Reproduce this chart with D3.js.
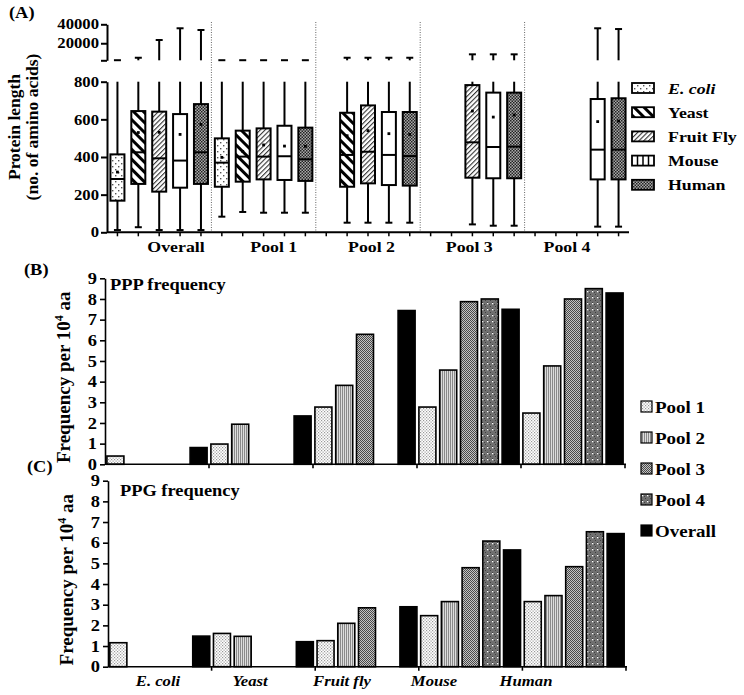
<!DOCTYPE html>
<html><head><meta charset="utf-8">
<script src="https://cdn.jsdelivr.net/npm/d3@7"></script>
<style>body{margin:0;background:#fff} svg{display:block}</style>
</head><body>
<svg id="chart" width="744" height="695"></svg>
<script>
// ---------------- DATA ----------------
// Panel A: protein length box plots, [min, q1, median, q3, max, mean]
const organismsA = ["E. coli", "Yeast", "Fruit Fly", "Mouse", "Human"];
const groupsA = ["Overall", "Pool 1", "Pool 2", "Pool 3", "Pool 4"];
const boxOverall = [[12,168,283,414,2100,320],[27,257,425,644,4700,530],[12,216,393,641,23400,531],[12,237,381,628,35800,520],[12,257,425,681,34000,573]];
const boxPool1 = [[83,242,370,499,2100,398],[108,269,402,540,2100,430],[104,281,402,552,2100,464],[104,278,404,566,2100,458],[104,273,388,556,2100,457]];
const boxPool2 = [null,[51,242,411,635,4700,513],[51,260,428,674,4700,540],[51,251,411,639,4700,524],[51,248,405,639,4700,520]];
const boxPool3 = [null,null,[42,290,478,782,8300,644],[35,287,453,742,8300,612],[35,287,455,742,8300,623]];
const boxPool4 = [null,null,null,[30,281,439,708,35800,588],[30,281,439,712,35000,591]];
const yTicksLowA = [0, 200, 400, 600, 800];
const yTicksUpA = [2000, 20000, 40000];

// Panels B & C: frequency per 10^4 aa
const organismsBC = ["E. coli", "Yeast", "Fruit fly", "Mouse", "Human"];
const seriesBC = ["Pool 1", "Pool 2", "Pool 3", "Pool 4", "Overall"];
const pppPool1 = [0.40, 0.98, 2.77, 2.77, 2.48];
const pppPool2 = [null, 1.94, 3.82, 4.56, 4.76];
const pppPool3 = [null, null, 6.29, 7.87, 8.00];
const pppPool4 = [null, null, null, 8.00, 8.50];
const pppOverall = [0.81, 2.34, 7.44, 7.50, 8.29];
const ppgPool1 = [1.16, 1.61, 1.26, 2.47, 3.15];
const ppgPool2 = [null, 1.47, 2.10, 3.15, 3.44];
const ppgPool3 = [null, null, 2.85, 4.79, 4.84];
const ppgPool4 = [null, null, null, 6.08, 6.53];
const ppgOverall = [1.48, 1.21, 2.90, 5.65, 6.44];
const yTicksBC = [0,1,2,3,4,5,6,7,8,9];

// ---------------- SETUP ----------------
const FONT = "'Liberation Serif','Times New Roman',serif";
const SX = 1.15;
const svg = d3.select("#chart");
const defs = svg.append("defs");

function pattern(id, w, h, build, transform) {
  const p = defs.append("pattern").attr("id", id)
    .attr("patternUnits", "userSpaceOnUse").attr("width", w).attr("height", h);
  if (transform) p.attr("patternTransform", transform);
  build(p);
}
function r(p, x, y, w, h, fill) {
  p.append("rect").attr("x", x).attr("y", y).attr("width", w).attr("height", h).attr("fill", fill);
}
// Panel A patterns
pattern("pEcoli", 6, 6, p => { r(p,0,0,6,6,"#fff"); r(p,1,1,1.4,1.4,"#555"); r(p,4,4,1.4,1.4,"#555"); });
pattern("pYeast", 7, 7, p => { r(p,0,0,7,7,"#fff"); r(p,0,0,3,7,"#000"); }, "rotate(-45)");
pattern("pFly", 3.4, 3.4, p => { r(p,0,0,3.4,3.4,"#fff"); r(p,0,0,1.1,3.4,"#333"); }, "rotate(45)");
pattern("pMouse", 4, 4, p => { r(p,0,0,4,4,"#fff"); });
pattern("pHuman", 3, 3, p => { r(p,0,0,3,3,"#aaa"); r(p,0,0,1.5,1.5,"#222"); r(p,1.5,1.5,1.5,1.5,"#222"); });
const fillA = ["url(#pEcoli)", "url(#pYeast)", "url(#pFly)", "url(#pMouse)", "url(#pHuman)"];
// Panel B/C patterns
pattern("pP1", 3, 3, p => { r(p,0,0,3,3,"#fff"); r(p,0,0,1.2,1.2,"#999"); r(p,1.5,1.5,1.2,1.2,"#999"); });
pattern("pP2", 2, 2, p => { r(p,0,0,2,2,"#ddd"); r(p,0,0,1,2,"#8a8a8a"); });
pattern("pP3", 2, 2, p => { r(p,0,0,2,2,"#c4c4c4"); r(p,0,0,1,1,"#4a4a4a"); r(p,1,1,1,1,"#4a4a4a"); });
pattern("pP4", 5, 6, p => { r(p,0,0,5,6,"#707070"); r(p,0,0,1,1,"#404040"); r(p,2,2,1,1,"#404040"); r(p,4,4,1,1,"#404040");
  r(p,2,3,1.3,1.3,"#fff"); });
const fillBC = ["url(#pP1)", "url(#pP2)", "url(#pP3)", "url(#pP4)", "#000"];

function label(parent, x, y, txt, size, opts = {}) {
  return parent.append("text")
    .attr("transform", `translate(${x},${y}) scale(${opts.sx ?? SX},1)`)
    .attr("font-family", FONT).attr("font-weight", "bold")
    .attr("font-size", size).attr("text-anchor", opts.anchor || "start")
    .attr("font-style", opts.italic ? "italic" : "normal")
    .attr("fill", "#000")
    .text(txt);
}
function vtitle(parent, x, y, txt, size) {
  return parent.append("text")
    .attr("transform", `translate(${x},${y}) rotate(-90)`)
    .attr("font-family", FONT).attr("font-weight", "bold")
    .attr("font-size", size).attr("text-anchor", "middle").text(txt);
}
function styleAxis(g, sw, size, pad) {
  g.select(".domain").attr("stroke", "#000").attr("stroke-width", sw);
  g.selectAll(".tick line").attr("stroke", "#000").attr("stroke-width", sw);
  g.selectAll(".tick text").attr("font-family", FONT).attr("font-weight", "bold")
    .attr("font-size", size).attr("fill", "#000")
    .attr("transform", `scale(${SX},1)`);
}

// ---------------- PANEL A ----------------
const gA = svg.append("g");
const xGroupA = d3.scaleBand().domain(groupsA).range([107, 629]);
const xOrgA = d3.scaleBand().domain(organismsA).range([0, xGroupA.bandwidth()]);
const yLowA = d3.scaleLinear().domain([0, 800]).range([232.3, 81.7]);
const yUpA = d3.scaleLinear().domain([2000, 40000]).range([60.3, 24.3]);
const boxesA = [boxOverall, boxPool1, boxPool2, boxPool3, boxPool4];

// dotted separators
groupsA.slice(1).forEach(g => {
  gA.append("line").attr("x1", xGroupA(g)).attr("x2", xGroupA(g))
    .attr("y1", 22).attr("y2", yLowA(0))
    .attr("stroke", "#666").attr("stroke-width", 1).attr("stroke-dasharray", "1,1.5");
});

const boxW = 14, capW = 7;
groupsA.forEach((grp, gi) => {
  organismsA.forEach((org, oi) => {
    const cx = xGroupA(grp) + xOrgA(org) + xOrgA.bandwidth() / 2;
    // x-axis slot tick
    gA.append("line").attr("x1", cx).attr("x2", cx).attr("y1", yLowA(0)).attr("y2", yLowA(0) + 4)
      .attr("stroke", "#000").attr("stroke-width", 1.5);
    const s = boxesA[gi][oi];
    if (!s) return;
    const [mn, q1, md, q3, mx, mean] = s;
    const ln = (x1, y1, x2, y2) => gA.append("line").attr("x1", x1).attr("y1", y1).attr("x2", x2).attr("y2", y2)
      .attr("stroke", "#000").attr("stroke-width", 2);
    ln(cx, yLowA(mn), cx, yLowA(q1));
    ln(cx - capW / 2, yLowA(mn), cx + capW / 2, yLowA(mn));
    ln(cx, yLowA(q3), cx, yLowA(Math.min(mx, 800)));
    if (mx > 800) {
      ln(cx, yUpA(2000), cx, yUpA(mx));
      ln(cx - capW / 2, yUpA(mx), cx + capW / 2, yUpA(mx));
    }
    gA.append("rect").attr("x", cx - boxW / 2).attr("y", yLowA(q3))
      .attr("width", boxW).attr("height", yLowA(q1) - yLowA(q3))
      .attr("fill", fillA[oi]).attr("stroke", "#000").attr("stroke-width", 2);
    ln(cx - boxW / 2, yLowA(md), cx + boxW / 2, yLowA(md));
    gA.append("rect").attr("x", cx - 1.4).attr("y", yLowA(mean) - 1.4).attr("width", 2.8).attr("height", 2.8).attr("fill", "#000");
  });
});
// x axis line
gA.append("line").attr("x1", 107).attr("x2", 629).attr("y1", yLowA(0)).attr("y2", yLowA(0))
  .attr("stroke", "#000").attr("stroke-width", 2);
// y axes
const axLowA = gA.append("g").attr("transform", "translate(107,0)")
  .call(d3.axisLeft(yLowA).tickValues(yTicksLowA).tickSize(6).tickSizeOuter(0).tickPadding(1));
styleAxis(axLowA, 2, 14.5);
const axUpA = gA.append("g").attr("transform", "translate(107,0)")
  .call(d3.axisLeft(yUpA).tickValues(yTicksUpA).tickSize(6).tickSizeOuter(0).tickPadding(1)
    .tickFormat(d => d === 2000 ? "" : d));
styleAxis(axUpA, 2, 14.5);

// group labels
const xLabA = d3.scalePoint().domain(groupsA).range([176, 567]);
groupsA.forEach(g => label(gA, xLabA(g), 252, g, 15.5, { anchor: "middle" }));
// y title
vtitle(gA, 20, 127, "Protein length", 17.5);
vtitle(gA, 38, 127, "(no. of amino acids)", 17.5);
label(gA, 9, 18, "(A)", 16);

// legend A
const legA = gA.append("g");
organismsA.forEach((o, i) => {
  const cy = 88 + i * 24.2;
  legA.append("rect").attr("x", 632).attr("y", cy - 5).attr("width", 22).attr("height", 10)
    .attr("fill", fillA[i]).attr("stroke", "#000").attr("stroke-width", 1.8);
  if (i === 3) {
    [637.5, 643, 648.5].forEach(x => legA.append("line").attr("x1", x).attr("x2", x)
      .attr("y1", cy - 5).attr("y2", cy + 5).attr("stroke", "#000").attr("stroke-width", 1.5));
  }
  label(legA, 668, cy + 5.5, o, 15.5, { italic: i === 0 });
});

// ---------------- PANELS B & C ----------------
function drawBars(cfg) {
  const g = svg.append("g");
  const xO = d3.scaleBand().domain(organismsBC).range([cfg.left, cfg.right]);
  const xS = d3.scaleBand().domain(seriesBC).range([0, xO.bandwidth()]);
  const y = d3.scaleLinear().domain([0, 9]).range([cfg.y0, cfg.y9]);
  const barW = 17;
  cfg.series.forEach((vals, si) => {
    organismsBC.forEach((o, oi) => {
      const v = vals[oi];
      if (v == null) return;
      const cx = xO(o) + xS(seriesBC[si]) + xS.bandwidth() / 2;
      g.append("rect").attr("x", cx - barW / 2).attr("y", y(v))
        .attr("width", barW).attr("height", y(0) - y(v))
        .attr("fill", fillBC[si]).attr("stroke", "#000").attr("stroke-width", 1.6);
    });
  });
  // x axis
  g.append("line").attr("x1", cfg.left).attr("x2", cfg.right + 1).attr("y1", y(0)).attr("y2", y(0))
    .attr("stroke", "#000").attr("stroke-width", 1.6);
  organismsBC.forEach(o => {
    const x = xO(o) + xO.bandwidth();
    g.append("line").attr("x1", x).attr("x2", x).attr("y1", y(0)).attr("y2", y(0) + 4)
      .attr("stroke", "#000").attr("stroke-width", 1.6);
  });
  const ax = g.append("g").attr("transform", `translate(${cfg.left},0)`)
    .call(d3.axisLeft(y).tickValues(yTicksBC).tickSize(5).tickSizeOuter(0).tickPadding(2));
  styleAxis(ax, 1.6, 16);
  label(g, cfg.titleX, cfg.titleY, cfg.title, 16);
  const t = g.append("text")
    .attr("transform", `translate(${cfg.ytX},${(cfg.y0 + cfg.y9) / 2 + 6}) rotate(-90)`)
    .attr("font-family", FONT).attr("font-weight", "bold").attr("font-size", 19)
    .attr("text-anchor", "middle");
  t.append("tspan").text("Frequency per 10");
  t.append("tspan").attr("font-size", 12).attr("dy", -7).text("4");
  t.append("tspan").attr("dy", 7).text(" aa");
  label(g, cfg.tagX, cfg.tagY, cfg.tag, 16);
  return { g, xO, y };
}

drawBars({
  left: 105, right: 625, y0: 464.3, y9: 278.3,
  series: [pppPool1, pppPool2, pppPool3, pppPool4, pppOverall],
  title: "PPP frequency", titleX: 110, titleY: 290,
  ytX: 70, tag: "(B)", tagX: 24, tagY: 275
});
const C = drawBars({
  left: 108, right: 626, y0: 666.7, y9: 480.7,
  series: [ppgPool1, ppgPool2, ppgPool3, ppgPool4, ppgOverall],
  title: "PPG frequency", titleX: 120, titleY: 496,
  ytX: 73, tag: "(C)", tagX: 27, tagY: 472
});
// category labels under C
const xLabC = d3.scalePoint().domain(organismsBC).range([158, 526]);
organismsBC.forEach(o => label(C.g, xLabC(o), 686, o, 14.5, { anchor: "middle", italic: true }));

// legend B/C
const legB = svg.append("g");
seriesBC.forEach((s, i) => {
  const cy = 406.5 + i * 31;
  legB.append("rect").attr("x", 641).attr("y", cy - 5.5).attr("width", 11).attr("height", 11)
    .attr("fill", fillBC[i]).attr("stroke", "#000").attr("stroke-width", 1.2);
  label(legB, 655, cy + 6, s, 16.5);
});
</script>
</body></html>
